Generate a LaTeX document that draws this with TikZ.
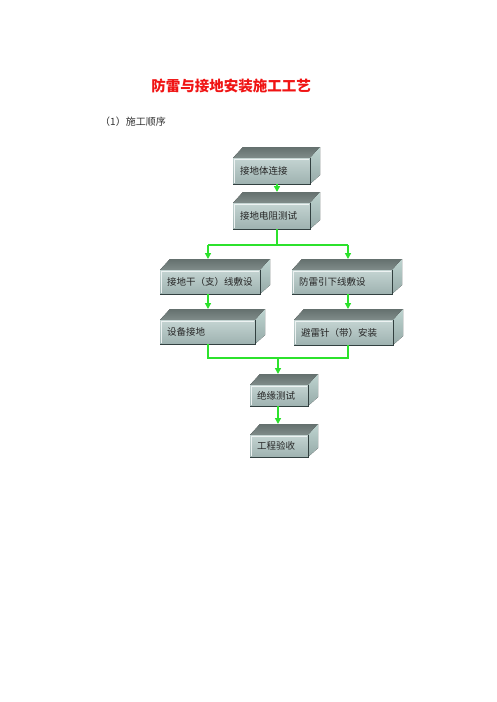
\documentclass[tikz,border=0pt]{standalone}
\usepackage{fontspec}
\newfontfamily\cjk{Noto Sans CJK SC}
\usetikzlibrary{arrows.meta}
\definecolor{flowgreen}{RGB}{44,226,44}
\definecolor{topA}{RGB}{100,112,110}
\definecolor{topB}{RGB}{128,140,138}
\definecolor{sideA}{RGB}{190,212,208}
\definecolor{sideB}{RGB}{150,170,168}
\definecolor{frontA}{RGB}{196,212,210}
\definecolor{frontB}{RGB}{158,178,176}
\definecolor{edgedark}{RGB}{50,64,64}
\definecolor{titlered}{RGB}{240,20,20}
\tikzset{
  topface/.style={top color=topA, bottom color=topB},
  sideface/.style={top color=sideA, bottom color=sideB},
  frontface/.style={rectangle, anchor=north west, inner sep=0pt, top color=frontA, bottom color=frontB},
  boxtext/.style={font=\cjk\fontsize{9.5}{11}\selectfont, text=black!85, anchor=west, inner sep=0pt},
  darkedge/.style={draw=edgedark, line width=1.1pt},
  lightedge/.style={draw=white!70!frontA, line width=0.9pt},
  flow/.style={draw=flowgreen, line width=1.4pt},
  flowarrow/.style={flow, -{Triangle[length=6pt,width=6pt]}},
}
\newcommand\cubebox[6]{%
  \fill[topface] (#2,#3) -- (#2+10,#3-11) -- (#4+10,#3-11) -- (#4,#3) -- cycle;
  \fill[sideface] (#4,#3) -- (#4+10,#3-11) -- (#4+10,#5-9) -- (#4,#5) -- cycle;
  \node[frontface, minimum width={(#4-#2)*1pt}, minimum height={(#5-#3)*1pt}] (#1) at (#2,#3) {};
  \node[boxtext] (#1t) at ([xshift=7pt]#1.west) {#6};
  \draw[lightedge] ([xshift=1pt,yshift=1pt]#1.south west) -- ([xshift=1pt,yshift=-1pt]#1.north west) -- ([xshift=-1pt,yshift=-1pt]#1.north east);
  \draw[darkedge] (#1.north east) -- (#1.south east) -- (#1.south west);
}
\begin{document}
\begin{tikzpicture}[x=1pt,y=-1pt]
\useasboundingbox[fill=white] (0,0) rectangle (496,702);
\node[font=\cjk\bfseries\fontsize{14.5}{16}\selectfont, text=titlered] (title) at (231,86) {防雷与接地安装施工工艺};
\node[font=\cjk\fontsize{10}{12}\selectfont, text=black!80, anchor=west, inner sep=0pt] (sub) at (100,122) {（1）施工顺序};

\cubebox{b1}{233}{158}{310}{184}{接地体连接}
\cubebox{b2}{233}{203}{310}{229}{接地电阻测试}
\cubebox{b3}{160}{270}{260}{294}{接地干（支）线敷设}
\cubebox{b4}{292}{270}{392}{294}{防雷引下线敷设}
\cubebox{b5}{160}{320}{255}{344}{设备接地}
\cubebox{b6}{294}{320}{393}{345}{避雷针（带）安装}
\cubebox{b7}{250}{385}{308}{406}{绝缘测试}
\cubebox{b8}{250}{435}{308}{457}{工程验收}

% coordinates for connector routes
\coordinate (b1o) at (277,184);
\coordinate (b2i) at (277,192);
\coordinate (b2o) at (277,229);
\coordinate (split) at (277,245);
\coordinate (splitL) at (208,245);
\coordinate (splitR) at (348,245);
\coordinate (b3i) at (208,259);
\coordinate (b4i) at (348,259);
\coordinate (b3o) at (208,294);
\coordinate (b4o) at (348,294);
\coordinate (b5i) at (208,309);
\coordinate (b6i) at (348,309);
\coordinate (b5o) at (208,344);
\coordinate (b6o) at (348,345);
\coordinate (joinL) at (208,358);
\coordinate (joinR) at (348,358);
\coordinate (join) at (278,358);
\coordinate (b7i) at (278,374);
\coordinate (b7o) at (278,406);
\coordinate (b8i) at (278,424);

\draw[flowarrow] (b1o) -- (b2i);
\draw[flow] (b2o) -- (split);
\draw[flow] (splitL) -- (splitR);
\draw[flowarrow] (splitL) -- (b3i);
\draw[flowarrow] (splitR) -- (b4i);
\draw[flowarrow] (b3o) -- (b5i);
\draw[flowarrow] (b4o) -- (b6i);
\draw[flow] (b5o) -- (joinL) -- (joinR) -- (b6o);
\draw[flowarrow] (join) -- (b7i);
\draw[flowarrow] (b7o) -- (b8i);
\end{tikzpicture}
\end{document}
